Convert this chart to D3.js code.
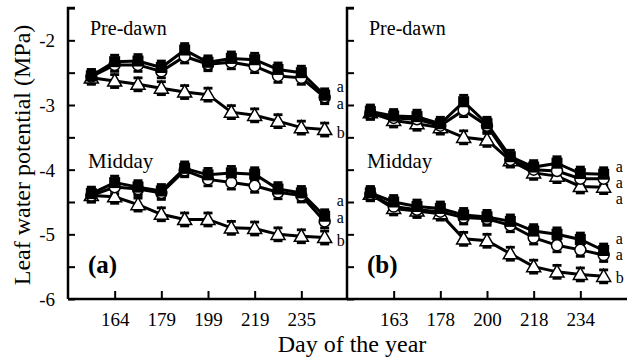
<!DOCTYPE html>
<html>
<head>
<meta charset="utf-8">
<script src="https://cdn.jsdelivr.net/npm/d3@7"></script>
<style>
  body { margin: 0; background: #fff; }
  text { font-family: "Liberation Serif", "Times New Roman", serif; fill: #000; }
</style>
</head>
<body>
<div id="chart"></div>
<script>
const WIDTH = 627;
const HEIGHT = 362;

// day-of-year tick labels (every other sampling date)
const daysA = ["", "164", "", "179", "", "199", "", "219", "", "235", ""];
const daysB = ["", "163", "", "178", "", "200", "", "218", "", "234", ""];

// panel (a)
const aPreSquare   = [-2.55, -2.33, -2.32, -2.42, -2.15, -2.34, -2.28, -2.30, -2.45, -2.50, -2.85];
const aPreCircle   = [-2.56, -2.38, -2.38, -2.48, -2.25, -2.37, -2.34, -2.40, -2.55, -2.58, -2.88];
const aPreTriangle = [-2.58, -2.63, -2.68, -2.74, -2.80, -2.84, -3.11, -3.16, -3.25, -3.35, -3.38];
const aMidSquare   = [-4.37, -4.20, -4.27, -4.33, -3.98, -4.08, -4.05, -4.07, -4.30, -4.36, -4.72];
const aMidCircle   = [-4.40, -4.27, -4.30, -4.36, -4.01, -4.15, -4.20, -4.25, -4.35, -4.40, -4.80];
const aMidTriangle = [-4.40, -4.42, -4.54, -4.69, -4.77, -4.77, -4.90, -4.91, -5.00, -5.03, -5.05];

// panel (b)
const bPreSquare   = [-3.10, -3.17, -3.18, -3.29, -2.95, -3.29, -3.80, -3.96, -3.90, -4.06, -4.07];
const bPreCircle   = [-3.12, -3.20, -3.22, -3.32, -3.08, -3.32, -3.85, -4.00, -4.02, -4.14, -4.14];
const bPreTriangle = [-3.12, -3.24, -3.29, -3.35, -3.50, -3.54, -3.86, -4.05, -4.10, -4.26, -4.27];
const bMidSquare   = [-4.36, -4.50, -4.57, -4.60, -4.70, -4.73, -4.80, -4.95, -5.00, -5.08, -5.25];
const bMidCircle   = [-4.38, -4.57, -4.62, -4.65, -4.74, -4.76, -4.86, -5.05, -5.17, -5.24, -5.32];
const bMidTriangle = [-4.38, -4.60, -4.64, -4.68, -5.07, -5.10, -5.30, -5.50, -5.58, -5.62, -5.65];

// standard error shown on every point (MPa)
const errBar = 0.1;

// significance letters and where they sit (MPa)
const aPreLetters = ["a", "a", "b"], aPreLetterY = [-2.72, -2.98, -3.44];
const aMidLetters = ["a", "a", "b"], aMidLetterY = [-4.48, -4.75, -5.10];
const bPreLetters = ["a", "a", "a"], bPreLetterY = [-3.96, -4.21, -4.46];
const bMidLetters = ["a", "a", "b"], bMidLetterY = [-5.07, -5.33, -5.68];

const yTicks = [-6, -5.5, -5, -4.5, -4, -3.5, -3, -2.5, -2, -1.5];

const svg = d3.select("#chart").append("svg")
    .attr("width", WIDTH)
    .attr("height", HEIGHT);

const marginTop = 8;
const marginBottom = 63;

const y = d3.scaleLinear()
    .domain([-6, -1.5])
    .range([HEIGHT - marginBottom, marginTop]);

function drawPanel(left, right, days, groups, tag, showYLabels) {
  const x = d3.scaleLinear()
      .domain([-1, 11])
      .range([left, right]);

  // left axis, ticks pointing inward
  const yAxis = svg.append("g")
      .attr("transform", `translate(${left},0)`)
      .call(d3.axisRight(y).tickValues(yTicks).tickSize(7).tickFormat(""));
  yAxis.select(".domain").attr("stroke-width", 2.5).attr("d", `M7,${y(-1.5)}H0V${y(-6)}`);
  yAxis.selectAll(".tick line").attr("stroke-width", 2);
  if (showYLabels) {
    yAxis.selectAll(".tick")
      .filter(d => Number.isInteger(d))
      .append("text")
      .attr("x", -13)
      .attr("dy", "0.35em")
      .attr("text-anchor", "end")
      .style("font-size", "19px")
      .text(d => String(d).replace("\u2212", "-"));
  }

  // bottom axis
  const labelled = d3.range(11).filter(i => days[i] !== "");
  const xAxis = svg.append("g")
      .attr("transform", `translate(0,${y(-6)})`)
      .call(d3.axisTop(x).tickValues(labelled).tickSize(8).tickFormat(""));
  xAxis.select(".domain").attr("stroke-width", 2.5).attr("d", `M${left},0H${right}`);
  xAxis.selectAll(".tick line").attr("stroke-width", 2);
  xAxis.selectAll(".tick").append("text")
      .attr("y", 27)
      .attr("text-anchor", "middle")
      .style("font-size", "19px")
      .text(d => days[d]);

  const line = d3.line().x((d, i) => x(i)).y(d => y(d));

  groups.forEach(function(g) {
    const order = [g.tri, g.circ, g.sq];
    order.forEach(function(vals) {
      svg.append("path")
        .attr("fill", "none")
        .attr("stroke", "#000")
        .attr("stroke-width", 3)
        .attr("d", line(vals));
    });
    // error bars
    order.forEach(function(vals) {
      vals.forEach(function(v, i) {
        const cx = x(i);
        svg.append("line")
          .attr("x1", cx).attr("x2", cx)
          .attr("y1", y(v - errBar)).attr("y2", y(v + errBar))
          .attr("stroke", "#000").attr("stroke-width", 2.2);
        [v - errBar, v + errBar].forEach(function(e) {
          svg.append("line")
            .attr("x1", cx - 4.5).attr("x2", cx + 4.5)
            .attr("y1", y(e)).attr("y2", y(e))
            .attr("stroke", "#000").attr("stroke-width", 2.8);
        });
      });
    });
    // markers
    g.tri.forEach(function(v, i) {
      svg.append("path")
        .attr("transform", `translate(${x(i)},${y(v) + 1})`)
        .attr("d", d3.symbol(d3.symbolTriangle, 85)())
        .attr("fill", "#fff").attr("stroke", "#000").attr("stroke-width", 1.5);
    });
    g.circ.forEach(function(v, i) {
      svg.append("circle")
        .attr("cx", x(i)).attr("cy", y(v)).attr("r", 5.5)
        .attr("fill", "#fff").attr("stroke", "#000").attr("stroke-width", 1.5);
    });
    g.sq.forEach(function(v, i) {
      svg.append("rect")
        .attr("x", x(i) - 5.5).attr("y", y(v) - 5.5)
        .attr("width", 11).attr("height", 11)
        .attr("fill", "#000");
    });
    // letters
    g.letters.forEach(function(t, k) {
      svg.append("text")
        .attr("x", x(10) + 12)
        .attr("y", y(g.letterY[k]))
        .attr("dy", "0.3em")
        .style("font-size", "16px")
        .text(t);
    });
  });

  svg.append("text")
    .attr("x", left + 22).attr("y", y(-1.92))
    .style("font-size", "20px")
    .text("Pre-dawn");
  svg.append("text")
    .attr("x", left + 20).attr("y", y(-3.98))
    .style("font-size", "21px")
    .text("Midday");
  svg.append("text")
    .attr("x", left + 20).attr("y", y(-5.6))
    .style("font-size", "25px")
    .style("font-weight", "bold")
    .text(tag);
}

drawPanel(68, 348, daysA, [
  {sq: aPreSquare, circ: aPreCircle, tri: aPreTriangle, letters: aPreLetters, letterY: aPreLetterY},
  {sq: aMidSquare, circ: aMidCircle, tri: aMidTriangle, letters: aMidLetters, letterY: aMidLetterY}
], "(a)", true);

drawPanel(347, 627, daysB, [
  {sq: bPreSquare, circ: bPreCircle, tri: bPreTriangle, letters: bPreLetters, letterY: bPreLetterY},
  {sq: bMidSquare, circ: bMidCircle, tri: bMidTriangle, letters: bMidLetters, letterY: bMidLetterY}
], "(b)", false);

svg.append("text")
  .attr("transform", `translate(30,155) rotate(-90)`)
  .attr("text-anchor", "middle")
  .style("font-size", "24px")
  .text("Leaf water potential (MPa)");

svg.append("text")
  .attr("x", 352).attr("y", 352)
  .attr("text-anchor", "middle")
  .style("font-size", "24px")
  .text("Day of the year");
</script>
</body>
</html>
